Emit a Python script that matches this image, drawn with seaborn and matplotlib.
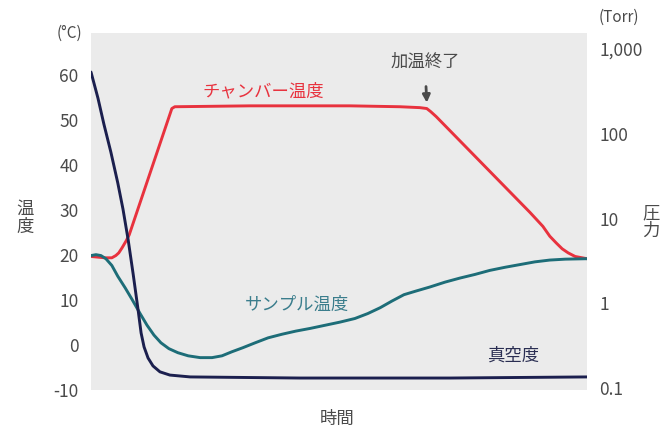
import matplotlib
matplotlib.use("Agg")
import matplotlib.pyplot as plt
import seaborn as sns

# chamber temperature (°C) vs time (arbitrary 0-100)
time_chamber = [0, 2.8, 4.2, 5.0, 5.6, 6.25, 7.1, 7.7, 16.3, 16.9, 32.1, 52.2, 62.3,
                66.3, 67.7, 68.5, 69.6, 88.5, 91.1, 92.5, 93.8, 95.0, 96.2, 97.6, 100]
temp_chamber = [19.7, 19.4, 19.4, 19.9, 20.5, 21.6, 23.2, 24.5, 52.6, 53.0, 53.2, 53.2, 53.0,
                52.8, 52.6, 51.9, 50.8, 29.5, 26.4, 24.2, 22.7, 21.4, 20.5, 19.7, 19.2]

# sample temperature (°C)
time_sample = [0, 1.0, 2.0, 3.0, 4.2, 5.4, 6.9, 8.3, 9.9, 11.3, 12.7, 14.1, 15.7, 17.5,
               19.6, 22.0, 24.4, 26.4, 28.4, 30.6, 33.1, 35.7, 38.5, 41.3, 44.2, 47.2,
               50.2, 53.2, 55.8, 58.3, 60.7, 63.1, 65.5, 68.3, 71.4, 74.4, 77.4, 80.4,
               83.5, 86.5, 89.5, 92.5, 95.6, 100]
temp_sample = [19.9, 20.1, 19.9, 19.2, 17.7, 15.3, 12.7, 10.1, 7.0, 4.4, 2.2, 0.5, -0.8, -1.7,
               -2.4, -2.8, -2.8, -2.4, -1.5, -0.6, 0.5, 1.6, 2.4, 3.1, 3.7, 4.4,
               5.1, 5.9, 7.0, 8.3, 9.8, 11.2, 12.0, 12.9, 14.0, 14.9, 15.7, 16.6,
               17.3, 17.9, 18.5, 18.9, 19.1, 19.2]

# vacuum (Torr)
time_vac = [0, 1.4, 2.6, 4.0, 5.4, 6.45, 7.5, 8.5, 9.5, 10.1, 10.7, 11.5, 12.5, 13.9,
            15.9, 20.0, 42.1, 72.4, 100]
pres_vac = [536, 264, 130, 61, 26.3, 12.9, 5.57, 2.21, 0.83, 0.446, 0.305, 0.226, 0.182,
            0.155, 0.142, 0.135, 0.131, 0.131, 0.135]

temp_ticks = [-10, 0, 10, 20, 30, 40, 50, 60]
pres_ticks = [0.1, 1, 10, 100, 1000]
pres_labels = ["0.1", "1", "10", "100", "1,000"]

RED = "#e8323e"
TEAL = "#1d6d78"
NAVY = "#1b1f4e"
GREY_TXT = "#4a4a4a"

sns.set_theme(style="white")
plt.rcParams["font.family"] = ["Noto Sans CJK JP", "DejaVu Sans"]

fig = plt.figure(figsize=(6.62, 4.28), dpi=100)
ax = fig.add_axes([91 / 662, 38 / 428, 496 / 662, 357 / 428])
ax.set_facecolor("#ebebeb")

sns.lineplot(x=time_chamber, y=temp_chamber, ax=ax, color=RED, linewidth=2.1, errorbar=None)
sns.lineplot(x=time_sample, y=temp_sample, ax=ax, color=TEAL, linewidth=2.1, errorbar=None)

ax2 = ax.twinx()
sns.lineplot(x=time_vac, y=pres_vac, ax=ax2, color=NAVY, linewidth=2.1, errorbar=None)
ax2.set_yscale("log")

ax.set_xlim(0, 100)
ax.set_ylim(-8.5, 69.4)
ax2.set_ylim(10 ** -1.024, 10 ** 3.19)

ax.set_xticks([])
ax.set_yticks(temp_ticks)
ax.set_yticklabels([str(t) for t in temp_ticks])
ax2.set_yticks(pres_ticks)
ax2.set_yticklabels(pres_labels)
ax2.yaxis.set_minor_locator(matplotlib.ticker.NullLocator())

for a in (ax, ax2):
    for s in a.spines.values():
        s.set_visible(False)
    a.tick_params(axis="y", length=0, labelsize=12.5, labelcolor=GREY_TXT, pad=9)
    a.set_xlabel("")
    a.set_ylabel("")

# series labels
ax.text(34.7, 56.5, "チャンバー温度", color=RED, fontsize=12.5, ha="center", va="center")
ax.text(41.5, 9.0, "サンプル温度", color="#3a7d8c", fontsize=12.5, ha="center", va="center")
ax.text(85.1, -2.4, "真空度", color="#2a2e52", fontsize=12.5, ha="center", va="center")
ax.annotate("加温終了", xy=(67.7, 53.9), xytext=(67.3, 63.0), ha="center", va="center",
            fontsize=12.5, color=GREY_TXT,
            arrowprops=dict(arrowstyle="-|>", color=GREY_TXT, lw=2, shrinkA=9, shrinkB=0,
                            mutation_scale=11))

# axis titles / units
fig.text(69 / 662, 1 - 33 / 428, "(°C)", fontsize=11, color=GREY_TXT, ha="center", va="center")
fig.text(619 / 662, 1 - 17 / 428, "(Torr)", fontsize=11, color=GREY_TXT, ha="center", va="center")
fig.text(25 / 662, 1 - 218 / 428, "温\n度", fontsize=12.5, color=GREY_TXT, ha="center",
         va="center", linespacing=1.0)
fig.text(651 / 662, 1 - 222 / 428, "圧\n力", fontsize=12.5, color=GREY_TXT, ha="center",
         va="center", linespacing=1.0)
fig.text(337 / 662, 1 - 419 / 428, "時間", fontsize=12.5, color=GREY_TXT, ha="center", va="center")

fig.savefig("out.png", dpi=100, facecolor="white")
